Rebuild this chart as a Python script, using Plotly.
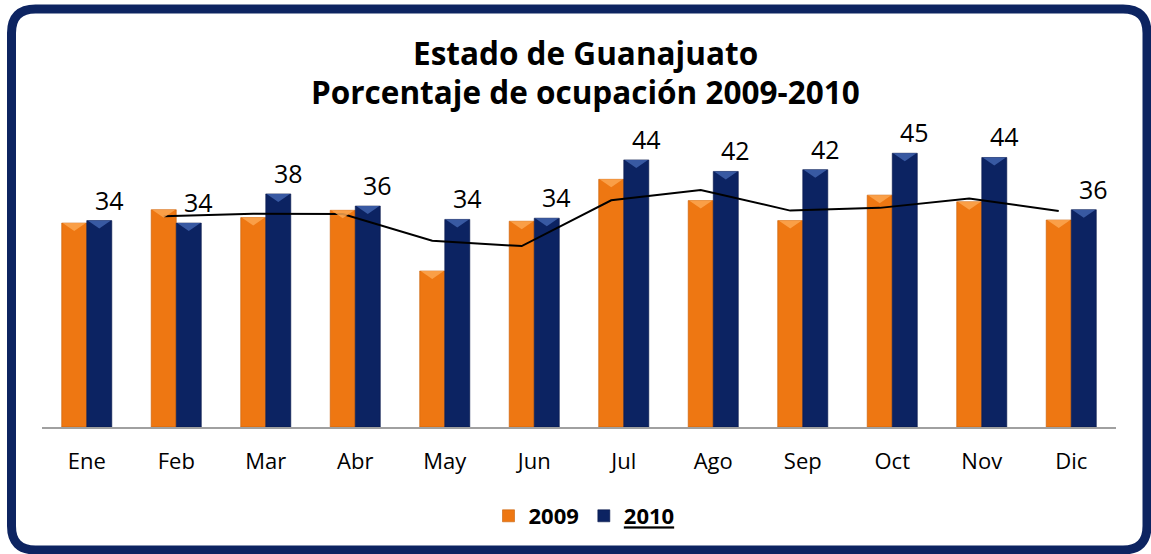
import plotly.graph_objects as go
import pandas as pd

months = ["Ene", "Feb", "Mar", "Abr", "May", "Jun", "Jul", "Ago", "Sep", "Oct", "Nov", "Dic"]
v2009 = [33.6, 35.8, 34.5, 35.7, 25.7, 33.9, 40.8, 37.3, 34.0, 38.2, 37.1, 34.1]
v2010 = [34.0, 33.6, 38.4, 36.4, 34.2, 34.4, 44.0, 42.1, 42.4, 45.1, 44.4, 35.8]
labels2010 = ["34", "34", "38", "36", "34", "34", "44", "42", "42", "45", "44", "36"]

ORANGE = "#EE7712"
ORANGE_LIGHT = "#FBA651"
NAVY = "#0C2362"
NAVY_LIGHT = "#4163AE"
BORDER = "#0D2461"
FONT = "Open Sans"

W, H = 1151, 554
ML, MR, MT, MB = 42, 35, 130, 127
PW, PH = W - ML - MR, H - MT - MB
YMAX = PH / 6.07
BW = 0.28

def px2x(px):
    return (px - ML) / PW

def px2y(py):
    return (H - MB - py) / PH

idx = list(range(len(months)))
ma2 = pd.Series(v2009).rolling(2).mean()

fig = go.Figure()
fig.add_trace(go.Bar(x=idx, y=v2009, name="2009", width=BW, offset=-BW,
                     marker=dict(color=ORANGE, line=dict(color="#C85F08", width=0.6))))
fig.add_trace(go.Bar(x=idx, y=v2010, name="<u>2010</u>", width=BW, offset=0,
                     marker=dict(color=NAVY, line=dict(color="#08184A", width=0.6))))
fig.add_trace(go.Scatter(x=[i - BW / 2 for i in idx[1:]], y=list(ma2[1:]), mode="lines",
                         line=dict(color="black", width=2), showlegend=False, hoverinfo="skip"))

shapes = []
d = 8 / 6.07
for vals, off, col in ((v2009, -BW, ORANGE_LIGHT), (v2010, 0, NAVY_LIGHT)):
    for i, v in zip(idx, vals):
        x0 = i + off
        x1 = x0 + BW
        xm = (x0 + x1) / 2
        shapes.append(dict(type="path", xref="x", yref="y", layer="above",
                           path=f"M {x0+0.01},{v} L {x1-0.01},{v} L {xm},{v-d} Z",
                           fillcolor=col, line=dict(width=0), opacity=0.85))

# rounded border
l, t, r, b, rad = 11.5, 9, 1147, 550, 24
pts = lambda x, y: f"{px2x(x)},{px2y(y)}"
path = (f"M {pts(l+rad, t)} L {pts(r-rad, t)} Q {pts(r, t)} {pts(r, t+rad)} "
        f"L {pts(r, b-rad)} Q {pts(r, b)} {pts(r-rad, b)} L {pts(l+rad, b)} "
        f"Q {pts(l, b)} {pts(l, b-rad)} L {pts(l, t+rad)} Q {pts(l, t)} {pts(l+rad, t)} Z")
shapes.append(dict(type="path", xref="paper", yref="paper", path=path,
                   line=dict(color=BORDER, width=9), fillcolor="rgba(0,0,0,0)"))

annotations = []
for i, v, lab in zip(idx, v2010, labels2010):
    annotations.append(dict(x=i + 0.25, y=v, xref="x", yref="y", text=lab, showarrow=False,
                            yanchor="bottom", yshift=2, font=dict(family=FONT, size=25, color="black")))
annotations.append(dict(x=px2x(585), y=px2y(53), xref="paper", yref="paper", text="<b>Estado de Guanajuato</b>",
                        showarrow=False, yanchor="middle", font=dict(family=FONT, size=31.5, color="black")))
annotations.append(dict(x=px2x(585), y=px2y(91), xref="paper", yref="paper", text="<b>Porcentaje de ocupación 2009-2010</b>",
                        showarrow=False, yanchor="middle", font=dict(family=FONT, size=31.5, color="black")))

fig.update_layout(
    width=W, height=H, margin=dict(l=ML, r=MR, t=MT, b=MB),
    paper_bgcolor="white", plot_bgcolor="white",
    barmode="overlay", shapes=shapes, annotations=annotations,
    font=dict(family=FONT, color="black"),
    showlegend=True,
    legend=dict(orientation="h", x=px2x(584), xanchor="center", y=px2y(516), yanchor="middle",
                font=dict(family=FONT, size=22, color="black", weight="bold"), itemwidth=30,
                bgcolor="rgba(0,0,0,0)"),
    xaxis=dict(range=[-0.5, 11.5], tickvals=idx, ticktext=months, showgrid=False, zeroline=False,
               showline=True, linecolor="#A0A0A0", linewidth=1.5, ticks="", ticklabelstandoff=14,
               tickfont=dict(family=FONT, size=22, color="black")),
    yaxis=dict(range=[0, YMAX], visible=False, showgrid=False, zeroline=False),
)

fig.write_html("out.html", config={"displayModeBar": False},
               post_script="document.body.style.margin='0';document.body.style.overflow='hidden';")
